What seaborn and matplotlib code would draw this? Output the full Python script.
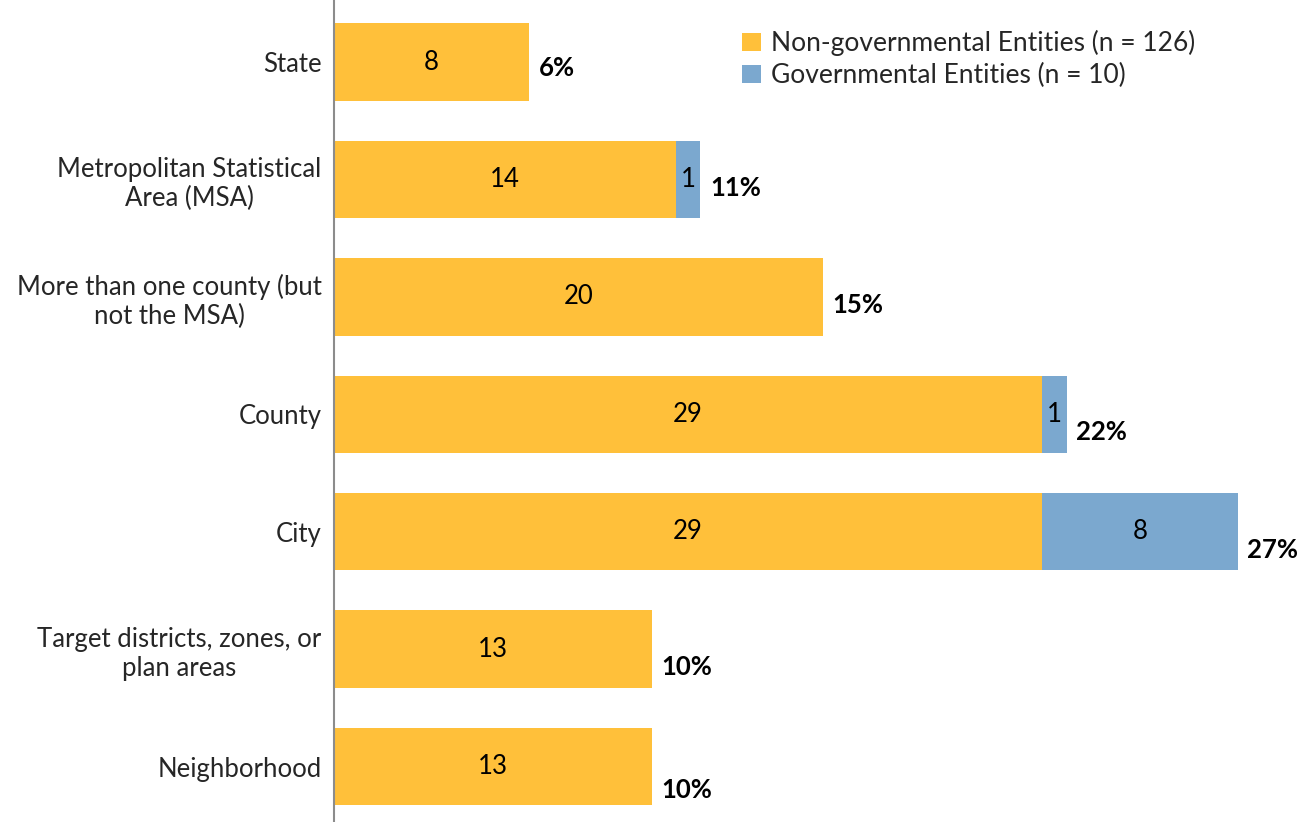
import matplotlib
matplotlib.use("Agg")
import matplotlib.pyplot as plt
import seaborn as sns
import pandas as pd
from matplotlib.patches import Patch

# Geographic scope of entities, split by entity type
categories = [
    "State",
    "Metropolitan Statistical\nArea (MSA)",
    "More than one county (but\nnot the MSA)",
    "County",
    "City",
    "Target districts, zones, or\nplan areas",
    "Neighborhood",
]
non_governmental = [8, 14, 20, 29, 29, 13, 13]
governmental = [0, 1, 0, 1, 8, 0, 0]
share_labels = ["6%", "11%", "15%", "22%", "27%", "10%", "10%"]
legend_labels = ["Non-governmental Entities (n = 126)", "Governmental Entities (n = 10)"]

YELLOW = "#FFC03A"
BLUE = "#7BA8CF"
FS = 18.5

df = pd.DataFrame({
    "category": categories,
    "nongov": non_governmental,
    "gov": governmental,
})
df["total"] = df["nongov"] + df["gov"]

sns.set_theme(style="white")
plt.rcParams["font.family"] = ["Lato", "DejaVu Sans"]

fig = plt.figure(figsize=(13.11, 8.22), dpi=100)
ax = fig.add_axes([334 / 1311, 0.0, (1311 - 334) / 1311, 1.0])

# Full stack in blue, then the non-governmental part drawn over it in yellow
sns.barplot(data=df, y="category", x="total", color=BLUE, saturation=1,
            width=0.66, orient="h", ax=ax, linewidth=0)
sns.barplot(data=df, y="category", x="nongov", color=YELLOW, saturation=1,
            width=0.66, orient="h", ax=ax, linewidth=0)

ax.set_xlim(0, 40)
ax.set_ylim(6.472, -0.528)
ax.set_xlabel("")
ax.set_ylabel("")
ax.set_xticks([])
ax.tick_params(axis="y", length=0, pad=9, labelsize=FS)
for lbl in ax.get_yticklabels():
    lbl.set_horizontalalignment("right")
    lbl.set_multialignment("center")

for side in ["top", "right", "bottom"]:
    ax.spines[side].set_visible(False)
ax.spines["left"].set_color("#8c8c8c")
ax.spines["left"].set_linewidth(1.5)

# vertical nudge (points) for the share labels
share_dy = [-4, -6, -6, -13, -13, -13, -17]

for i, row in df.iterrows():
    ax.text(row["nongov"] / 2, i, str(row["nongov"]), ha="center", va="center",
            fontsize=FS, color="black")
    if row["gov"] > 0:
        ax.text(row["nongov"] + row["gov"] / 2, i, str(row["gov"]), ha="center",
                va="center", fontsize=FS, color="black")
    ax.annotate(share_labels[i], xy=(row["total"], i), xytext=(7, share_dy[i]),
                textcoords="offset points", ha="left", va="center",
                fontsize=FS, fontweight="bold", color="black")

handles = [Patch(facecolor=YELLOW, edgecolor="none"),
           Patch(facecolor=BLUE, edgecolor="none")]
ax.legend(handles, legend_labels, loc="upper left", bbox_to_anchor=(0.407, 0.976),
          frameon=False, fontsize=19, handlelength=0.7, handleheight=0.7,
          handletextpad=0.4, labelspacing=0.25, borderaxespad=0)

fig.savefig("out.png", dpi=100)
